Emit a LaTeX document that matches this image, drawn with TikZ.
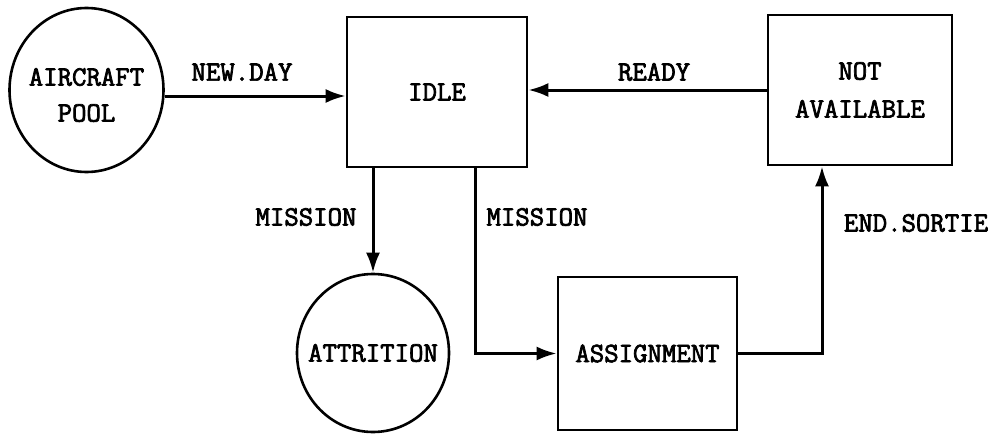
\documentclass[tikz,border=0pt]{standalone}
\usepackage{fontspec}
\newfontfamily\tw{Latin Modern Mono}[FakeBold=2.6]
\usetikzlibrary{arrows.meta,shapes.geometric}
\begin{document}
\begin{tikzpicture}[x=1pt,y=-1pt,
  every node/.style={font=\fontsize{28}{38}\tw},
  boxst/.style={draw,line width=2.6pt,rectangle,inner sep=0pt,align=center},
  circst/.style={draw,line width=2.6pt,ellipse,inner sep=0pt},
  arr/.style={line width=3pt,-{Latex[length=20pt,width=14pt]}},
  lbl/.style={inner sep=0pt}]
\useasboundingbox (0,0) rectangle (1004,434);
\node[circst,minimum width=154pt,minimum height=164pt,
  label={[align=center,font=\fontsize{28}{36}\tw,yshift=-5pt]center:AIRCRAFT\\POOL}] (pool) at (86.5,90) {};
\node[boxst,minimum width=180pt,minimum height=150pt] (idle) at (437,92) {IDLE};
\node[boxst,minimum width=184pt,minimum height=150pt] (notav) at (860,90) {NOT\\AVAILABLE};
\node[circst,minimum width=152pt,minimum height=158pt,
  label={center:ATTRITION}] (att) at (373,353) {};
\node[boxst,minimum width=179pt,minimum height=153pt] (asg) at (647.5,353.5) {ASSIGNMENT};
\coordinate (mx) at (475,0);
\coordinate (ex) at (822,0);
\coordinate (ny) at (0,96);
\draw[arr] (pool.east |- ny) -- (idle.west |- ny);
\draw[arr] (notav.west) -- (idle.east |- notav.west);
\draw[arr] (idle.south -| att.north) -- (att.north);
\draw[arr] (idle.south -| mx) |- (asg.west);
\draw[arr] (asg.east) -| (notav.south -| ex);
\node[lbl] (lnew) at (242,72) {NEW.DAY};
\node[lbl] (lready) at (654,72) {READY};
\node[lbl] (lm1) at (306,217) {MISSION};
\node[lbl] (lm2) at (537,217) {MISSION};
\node[lbl] (lend) at (916,223) {END.SORTIE};
\end{tikzpicture}
\end{document}
